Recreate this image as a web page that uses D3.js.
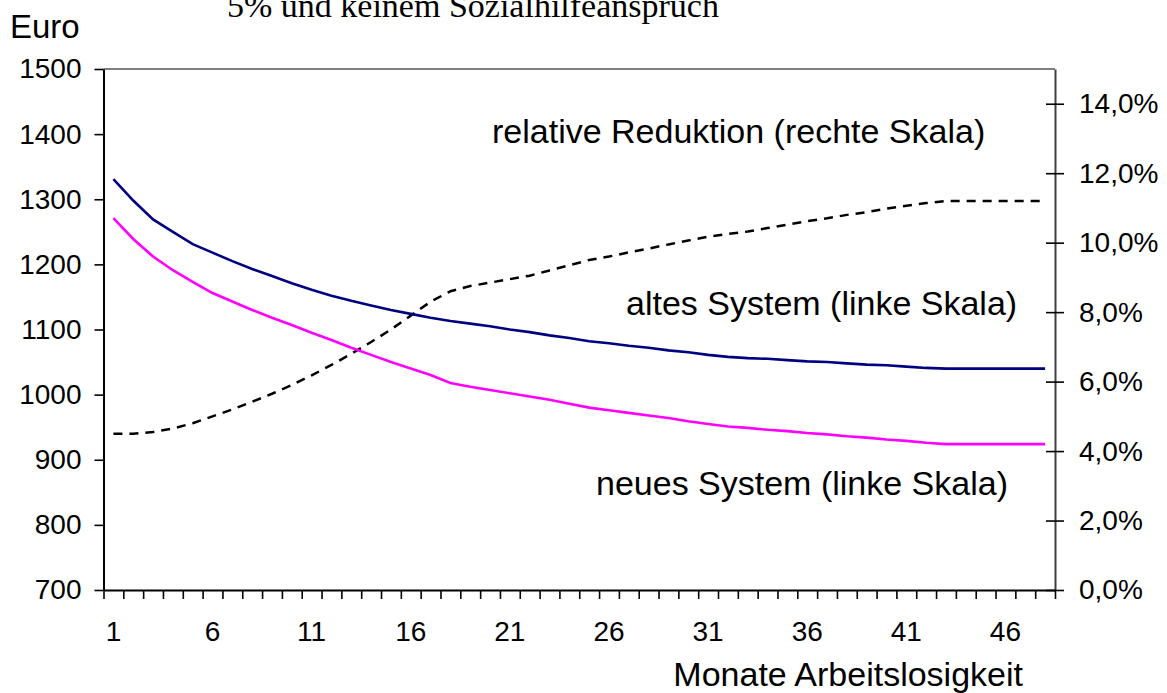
<!DOCTYPE html>
<html>
<head>
<meta charset="utf-8">
<script src="https://cdn.jsdelivr.net/npm/d3@7"></script>
<style>
  body { margin: 0; background: #ffffff; }
  svg { display: block; }
</style>
</head>
<body>
<script>

// months of unemployment (categories on the x axis)
var months = d3.range(1, 49);

// altes System in Euro (left scale)
var altesSystem = [1331, 1298, 1269, 1250, 1231, 1218, 1205, 1193, 1182, 1171,
                   1161, 1152, 1144, 1137, 1130, 1124, 1118, 1113, 1109, 1105,
                   1100, 1096, 1091, 1087, 1082, 1079, 1075, 1072, 1068, 1065,
                   1061, 1058, 1056, 1055, 1053, 1051, 1050, 1048, 1046, 1045,
                   1043, 1041, 1040, 1040, 1040, 1040, 1040, 1040];

// neues System in Euro (left scale)
var neuesSystem = [1271, 1239, 1212, 1191, 1173, 1156, 1143, 1130, 1118, 1107,
                   1095, 1084, 1072, 1061, 1050, 1040, 1030, 1018, 1012, 1007,
                   1002, 997, 992, 986, 980, 976, 972, 968, 964, 959,
                   955, 951, 949, 946, 944, 941, 939, 936, 934, 931,
                   929, 926, 924, 924, 924, 924, 924, 924];

// relative Reduktion in percent (right scale)
var relReduktion = [4.5, 4.5, 4.55, 4.65, 4.8, 5.0, 5.2, 5.42, 5.65, 5.9,
                    6.18, 6.48, 6.8, 7.14, 7.5, 7.9, 8.3, 8.6, 8.75, 8.85,
                    8.95, 9.05, 9.2, 9.35, 9.5, 9.6, 9.72, 9.83, 9.95, 10.06,
                    10.17, 10.25, 10.32, 10.42, 10.52, 10.62, 10.7, 10.8, 10.88, 10.98,
                    11.06, 11.14, 11.2, 11.2, 11.2, 11.2, 11.2, 11.2];

// tick labels
var leftTicks = [700, 800, 900, 1000, 1100, 1200, 1300, 1400, 1500];
var rightTicks = [0, 2, 4, 6, 8, 10, 12, 14];
var monthLabels = [1, 6, 11, 16, 21, 26, 31, 36, 41, 46];

// texts
var titleText = "5% und keinem Sozialhilfeanspruch";
var yTitle = "Euro";
var xTitle = "Monate Arbeitslosigkeit";
var labels = [
  {text: "relative Reduktion (rechte Skala)", x: 492, y: 143},
  {text: "altes System (linke Skala)", x: 626, y: 315},
  {text: "neues System (linke Skala)", x: 596, y: 495}
];

// defines the plot area
var width = 1167;
var height = 693;
var plotLeft = 103.5;
var plotRight = 1055;
var plotTop = 69;
var plotBottom = 590;
var sans = "'Liberation Sans', Arial, sans-serif";

var svg = d3.select("body")
            .append("svg")
            .attr("width", width)
            .attr("height", height);

svg.append("rect")
   .attr("width", width)
   .attr("height", height)
   .attr("fill", "#ffffff");

// scales
var xScale = d3.scaleBand()
               .domain(months)
               .range([plotLeft, plotRight])
               .padding(0);

var xEdge = d3.scaleLinear()
              .domain([0, months.length])
              .range([plotLeft, plotRight]);

var yLeft = d3.scaleLinear()
              .domain([700, 1500])
              .range([plotBottom, plotTop]);

var yRight = d3.scaleLinear()
               .domain([0, 15])
               .range([plotBottom, plotTop]);

// top border of the plot area
svg.append("line")
   .attr("x1", plotLeft)
   .attr("x2", plotRight)
   .attr("y1", plotTop)
   .attr("y2", plotTop)
   .attr("stroke", "#808080")
   .attr("stroke-width", 2);

// left axis
var gLeft = svg.append("g")
   .attr("transform", "translate(" + plotLeft + ",0)")
   .call(d3.axisLeft(yLeft).tickValues(leftTicks).tickSize(9).tickSizeOuter(0).tickPadding(13)
           .tickFormat(d3.format("d")));

// right axis, ticks cross the line
var gRight = svg.append("g")
   .attr("transform", "translate(" + plotRight + ",0)")
   .call(d3.axisRight(yRight).tickValues(rightTicks).tickSize(9).tickSizeOuter(0).tickPadding(15)
           .tickFormat(function(d) { return d3.format(".1f")(d).replace(".", ",") + "%"; }));
gRight.selectAll(".tick line").attr("x1", -9);
gRight.select(".domain").attr("stroke", "#404040");

// bottom axis: ticks between the months
var gEdge = svg.append("g")
   .attr("transform", "translate(0," + plotBottom + ")")
   .call(d3.axisBottom(xEdge).tickValues(d3.range(0, months.length + 1)).tickSize(9).tickSizeOuter(0).tickFormat(""));

// bottom axis labels in the middle of the months
var gBottom = svg.append("g")
   .attr("transform", "translate(0," + plotBottom + ")")
   .call(d3.axisBottom(xScale).tickValues(monthLabels).tickSize(0).tickPadding(31));
gBottom.select(".domain").remove();

[gLeft, gRight, gEdge, gBottom].forEach(function(g) {
  g.selectAll("text")
   .style("font-family", sans)
   .style("font-size", "28px")
   .attr("fill", "#000000");
  g.selectAll("line, path").attr("stroke-width", 1.6);
});
gLeft.select(".domain").attr("stroke-width", 2);
gEdge.select(".domain").attr("stroke-width", 2);
gRight.select(".domain").attr("stroke-width", 2);

// makes the lines
var lineLeft = d3.line()
                 .x(function(d, i) { return xScale(months[i]) + xScale.bandwidth() / 2; })
                 .y(function(d) { return yLeft(d); });

var lineRight = d3.line()
                  .x(function(d, i) { return xScale(months[i]) + xScale.bandwidth() / 2; })
                  .y(function(d) { return yRight(d); });

svg.append("path")
   .attr("d", lineRight(relReduktion))
   .attr("fill", "none")
   .attr("stroke", "#000000")
   .attr("stroke-width", 2.5)
   .attr("stroke-dasharray", "9,7");

svg.append("path")
   .attr("d", lineLeft(altesSystem))
   .attr("fill", "none")
   .attr("stroke", "#000080")
   .attr("stroke-width", 2.6);

svg.append("path")
   .attr("d", lineLeft(neuesSystem))
   .attr("fill", "none")
   .attr("stroke", "#ff00ff")
   .attr("stroke-width", 2.6);

// labels in the plot
svg.selectAll(".label")
   .data(labels)
   .enter()
   .append("text")
   .attr("class", "label")
   .attr("x", function(d) { return d.x; })
   .attr("y", function(d) { return d.y; })
   .style("font-family", sans)
   .style("font-size", "34px")
   .text(function(d) { return d.text; });

// title (cut at the top, like in the original)
svg.append("text")
   .attr("x", 227)
   .attr("y", 17)
   .style("font-family", "'Liberation Serif', 'Times New Roman', serif")
   .style("font-size", "34px")
   .text(titleText);

// axis titles
svg.append("text")
   .attr("x", 10)
   .attr("y", 38)
   .style("font-family", sans)
   .style("font-size", "33px")
   .text(yTitle);

svg.append("text")
   .attr("x", 1023)
   .attr("y", 686)
   .attr("text-anchor", "end")
   .style("font-family", sans)
   .style("font-size", "34px")
   .text(xTitle);

</script>
</body>
</html>
